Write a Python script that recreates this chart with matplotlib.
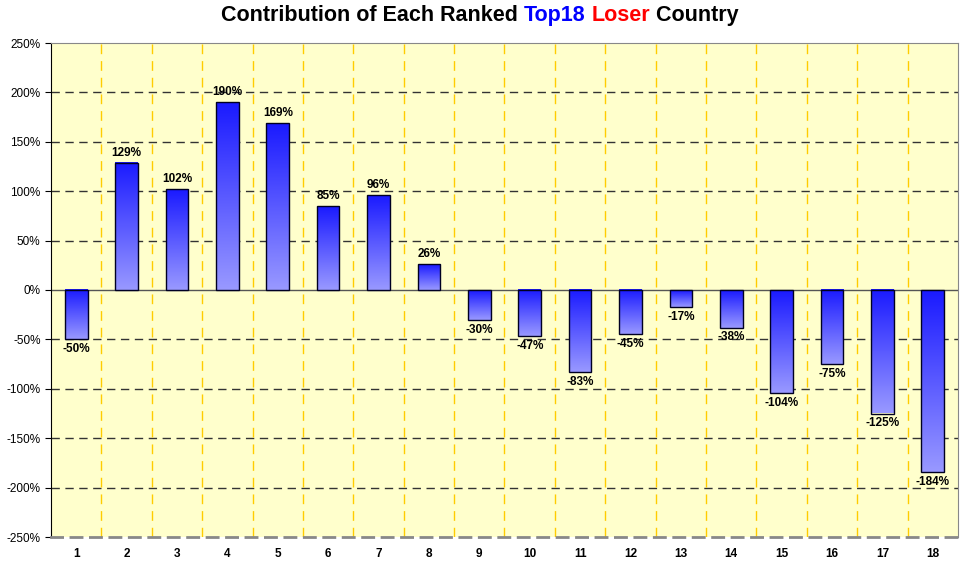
import numpy as np
import matplotlib
matplotlib.use("Agg")
import matplotlib.pyplot as plt
from matplotlib.colors import LinearSegmentedColormap
from matplotlib.ticker import FuncFormatter, MultipleLocator

plt.rcParams["font.family"] = ["Liberation Sans", "DejaVu Sans"]

ranks = list(range(1, 19))
contrib = [-50, 129, 102, 190, 169, 85, 96, 26, -30, -47, -83, -45, -17, -38,
           -104, -75, -125, -184]

fig = plt.figure(figsize=(9.6, 5.65), dpi=100)
ax = fig.add_axes([51 / 960, 28 / 565, 907 / 960, 494 / 565])
ax.set_facecolor("#ffffcc")
ax.set_xlim(0.5, 18.5)
ax.set_ylim(-250, 250)

cmap = LinearSegmentedColormap.from_list("bar", ["#9999ff", "#1a1aff"])
grad = np.linspace(0, 1, 256).reshape(-1, 1)
w = 0.45
for x, v in zip(ranks, contrib):
    lo, hi = min(0, v), max(0, v)
    ax.imshow(grad, cmap=cmap, origin="lower", aspect="auto",
              extent=(x - w / 2, x + w / 2, lo, hi), zorder=3)
    ax.add_patch(plt.Rectangle((x - w / 2, lo), w, hi - lo, fill=False,
                               edgecolor="#000022", lw=1.0, zorder=4))
    if v >= 0:
        ax.text(x, v + 4, f"{v}%", ha="center", va="bottom", fontsize=8.5,
                fontweight="bold", zorder=5)
    else:
        ax.text(x, v - 4, f"{v}%", ha="center", va="top", fontsize=8.5,
                fontweight="bold", zorder=5)

# grid
for yv in range(-200, 250, 50):
    if yv != 0:
        ax.axhline(yv, color="#333333", lw=1.0, ls=(0, (6, 4)), zorder=1)
ax.axhline(0, color="#555555", lw=1.0, zorder=2)
for xv in np.arange(1.5, 18.5, 1):
    ax.axvline(xv, color="#ffcc00", lw=1.0, ls=(0, (7, 5)), zorder=1)

ax.yaxis.set_major_locator(MultipleLocator(50))
ax.yaxis.set_major_formatter(FuncFormatter(lambda v, p: f"{v:.0f}%"))
ax.set_xticks(ranks)
ax.set_xticklabels([str(r) for r in ranks], fontweight="bold")
ax.tick_params(axis="x", length=0, labelsize=8.5, pad=8)
ax.tick_params(axis="y", length=4, labelsize=8.5, direction="out")

for s in ["top", "right"]:
    ax.spines[s].set_color("#888888")
ax.spines["left"].set_color("black")
ax.spines["bottom"].set_color("#888888")
ax.spines["bottom"].set_linewidth(2)
ax.spines["bottom"].set_linestyle((0, (4, 3)))

# title with coloured words, placed piece by piece on one baseline
parts = [("Contribution of Each Ranked ", "black"), ("Top18", "#0000ff"),
         (" ", "black"), ("Loser", "#ff0000"), (" Country", "black")]
renderer = fig.canvas.get_renderer()
tprops = dict(fontsize=15.5, fontweight="bold", va="baseline", ha="left")
full = fig.text(0, 0, "".join(p for p, _ in parts), **tprops)
total_w = full.get_window_extent(renderer).width
full.remove()
x0 = (fig.bbox.width - total_w) / 2
y0 = fig.bbox.height - 21
for txt, col in parts:
    t = fig.text(x0 / fig.bbox.width, y0 / fig.bbox.height, txt, color=col, **tprops)
    # measure with placeholders so trailing/leading spaces count
    t_meas = fig.text(0, 0, "|" + txt + "|", **tprops)
    bar_meas = fig.text(0, 0, "||", **tprops)
    x0 += (t_meas.get_window_extent(renderer).width
           - bar_meas.get_window_extent(renderer).width)
    t_meas.remove()
    bar_meas.remove()

fig.savefig("out.png", dpi=100)
